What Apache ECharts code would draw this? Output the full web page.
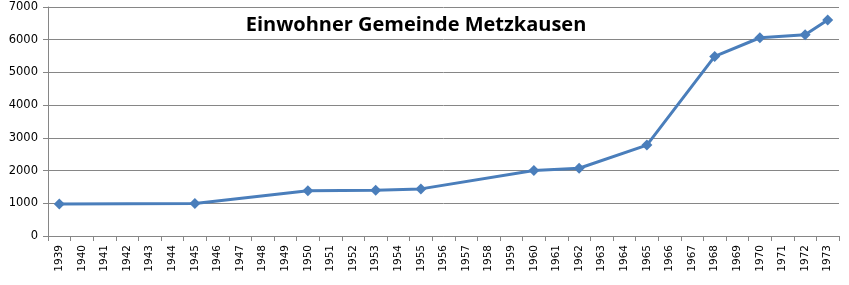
<!DOCTYPE html>
<html><head><meta charset="utf-8">
<script src="https://cdn.jsdelivr.net/npm/echarts@6/dist/echarts.min.js"></script>
<style>html,body{margin:0;padding:0;background:#fff}#c{width:849px;height:285px}</style>
</head><body><div id="c"></div>
<script>
const years = [];
for (let y = 1939; y <= 1973; y++) years.push(String(y));
const knownYears = ['1939','1945','1950','1953','1955','1960','1962','1965','1968','1970','1972','1973'];
const knownValues = [980, 990, 1380, 1400, 1440, 2000, 2070, 2780, 5490, 6060, 6150, 6600];
const yTicks = [0, 1000, 2000, 3000, 4000, 5000, 6000, 7000];
const values = years.map(y => { const i = knownYears.indexOf(y); return i >= 0 ? knownValues[i] : null; });

const chart = echarts.init(document.getElementById('c'));
chart.setOption({
  animation: false,
  title: { text: 'Einwohner Gemeinde Metzkausen', left: 411, top: 10, textAlign: 'center',
    textStyle: { fontFamily: 'Open Sans', fontWeight: 'bold', fontSize: 20, color: '#000' } },
  grid: { left: 48, right: 10, top: 7, bottom: 49 },
  xAxis: { type: 'category', data: years, boundaryGap: true,
    axisLine: { lineStyle: { color: '#868686', width: 1 } },
    axisTick: { show: true, length: 5, lineStyle: { color: '#868686' }, interval: 0 },
    axisLabel: { rotate: 90, interval: 0, fontFamily: 'DejaVu Sans', fontSize: 10.5, color: '#000', margin: 9 } },
  yAxis: { type: 'value', min: 0, max: 7000, interval: 1000,
    axisLine: { show: true, lineStyle: { color: '#868686' } },
    axisTick: { show: true, length: 5, lineStyle: { color: '#868686' } },
    splitLine: { lineStyle: { color: '#868686', width: 1 } },
    axisLabel: { fontFamily: 'DejaVu Sans', fontSize: 11.5, color: '#000', margin: 10,
      formatter: v => yTicks.includes(v) ? String(v) : '' } },
  series: [{ type: 'line', data: values, connectNulls: true, symbol: 'diamond', symbolSize: 11,
    lineStyle: { color: '#4a7ebb', width: 3 }, itemStyle: { color: '#4a7ebb' } }]
});
</script></body></html>
